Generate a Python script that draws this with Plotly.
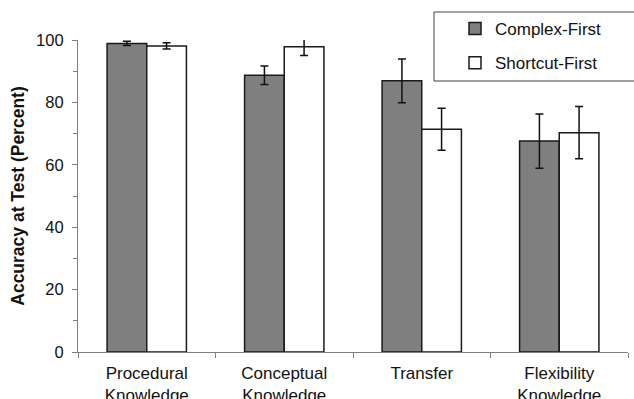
import plotly.graph_objects as go

categories = ["Procedural<br>Knowledge", "Conceptual<br>Knowledge", "Transfer", "Flexibility<br>Knowledge"]
complex_first = [98.9, 88.7, 86.9, 67.6]
complex_err = [0.7, 3.0, 7.0, 8.7]
shortcut_first = [98.1, 97.8, 71.4, 70.3]
shortcut_err = [1.0, 2.8, 6.7, 8.4]
y_ticks = [0, 20, 40, 60, 80, 100]

FONT = "Arial, Liberation Sans, sans-serif"
W, H = 634, 399
ML, MR, MT, MB = 78, 6, 40, 47
PW, PH = W - ML - MR, H - MT - MB

def px_x(p):
    return (p - ML) / PW

def px_y(p):
    return (H - MB - p) / PH

fig = go.Figure()
fig.add_trace(go.Bar(
    x=categories, y=complex_first, name="Complex-First", legendgroup="a",
    marker=dict(color="#7f7f7f", line=dict(color="#1a1a1a", width=1.5)),
    error_y=dict(type="data", array=complex_err, color="#111", thickness=1.5, width=4),
))
fig.add_trace(go.Bar(
    x=categories, y=shortcut_first, name="Shortcut-First", legendgroup="b",
    marker=dict(color="#ffffff", line=dict(color="#1a1a1a", width=1.5)),
    error_y=dict(type="data", array=shortcut_err, color="#111", thickness=1.5, width=4),
))

fig.update_layout(
    width=W, height=H,
    margin=dict(l=ML, r=MR, t=MT, b=MB, autoexpand=False),
    paper_bgcolor="white", plot_bgcolor="white",
    barmode="group", bargap=0.423, bargroupgap=0,
    font=dict(family=FONT, color="#111"),
    showlegend=True,
    legend=dict(x=px_x(455), y=px_y(11), xanchor="left", yanchor="top",
                font=dict(family=FONT, size=17, color="#111"), bgcolor="rgba(0,0,0,0)",
                borderwidth=0, itemwidth=30, traceorder="grouped", tracegroupgap=9),
    shapes=[dict(type="rect", xref="paper", yref="paper",
                 x0=px_x(434), x1=px_x(642), y0=px_y(81), y1=px_y(12),
                 line=dict(color="#444", width=1), fillcolor="rgba(0,0,0,0)")],
    xaxis=dict(
        showline=True, linecolor="#808080", linewidth=1.2,
        ticks="outside", tickson="boundaries", ticklen=5, tickcolor="#808080",
        tickfont=dict(family=FONT, size=17, color="#111"), ticklabelstandoff=5,
        showgrid=False, zeroline=False,
    ),
    yaxis=dict(
        range=[0, 100], tickvals=y_ticks,
        showline=True, linecolor="#808080", linewidth=1.2,
        ticks="outside", ticklen=5, tickcolor="#808080",
        minor=dict(ticks="outside", dtick=10, ticklen=4, tickcolor="#808080", showgrid=False),
        tickfont=dict(family=FONT, size=16.5, color="#111"), ticklabelstandoff=5,
        showgrid=False, zeroline=False,
        title=dict(text="<b>Accuracy at Test (Percent)</b>", font=dict(family=FONT, size=17.5, color="#111"), standoff=6),
    ),
)

fig.write_html("out.html", config={"displayModeBar": False},
               post_script="document.body.style.margin='0px';document.body.style.overflow='hidden';")
